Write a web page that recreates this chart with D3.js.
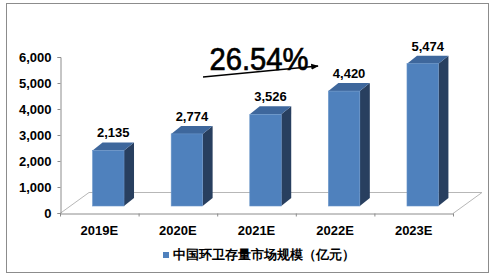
<!DOCTYPE html>
<html>
<head>
<meta charset="utf-8">
<script src="https://cdn.jsdelivr.net/npm/d3@7"></script>
<style>
  html, body { margin: 0; padding: 0; background: #fff; }
  svg text { font-family: Arial, "Liberation Sans", sans-serif; }
</style>
</head>
<body>
<svg id="chart" width="494" height="274"></svg>
<script>
// Chart data
const categories = ['2019E', '2020E', '2021E', '2022E', '2023E'];
const marketSize = [2135, 2774, 3526, 4420, 5474];
const yTicks = [0, 1000, 2000, 3000, 4000, 5000, 6000];
const seriesName = '中国环卫存量市场规模（亿元）';
const growthLabel = '26.54%';

const svg = d3.select('#chart');

// Outer frame
svg.append('rect')
  .attr('x', 6.5).attr('y', 3.5)
  .attr('width', 482).attr('height', 269)
  .attr('fill', '#fff')
  .attr('stroke', '#8c8c8c')
  .attr('stroke-width', 1);

// Plot geometry (front plane of the 3D floor)
const plot = { left: 60, right: 453, bottom: 213, top: 57 };
const floorDepth = { dx: 29, dy: -21 };  // floor depth offset
const barDepth = { dx: 10, dy: -8 };     // bar depth offset
const barShift = { dx: 9, dy: -7 };      // bars sit in middle of floor depth

const x = d3.scaleBand()
  .domain(categories)
  .range([plot.left, plot.right])
  .padding(0);

const y = d3.scaleLinear()
  .domain([0, 6000])
  .range([plot.bottom, plot.top]);

// Floor
const floorColor = '#b7b7b7';
const floor = svg.append('g').attr('class', 'floor')
  .attr('stroke', floorColor).attr('stroke-width', 1).attr('fill', 'none');
floor.append('path')
  .attr('d', `M${plot.left},${plot.bottom + 0.5}L${plot.left + floorDepth.dx},${plot.bottom + floorDepth.dy + 0.5}` +
             `L${plot.right + floorDepth.dx},${plot.bottom + floorDepth.dy + 0.5}L${plot.right},${plot.bottom + 0.5}`);

// Y axis
const yAxis = svg.append('g')
  .attr('transform', `translate(${plot.left + 0.5},0)`)
  .call(d3.axisLeft(y).tickValues(yTicks).tickSize(3).tickPadding(6).tickFormat(d3.format(',')));
yAxis.select('.domain').attr('stroke', '#8c8c8c');
yAxis.selectAll('.tick line').attr('stroke', '#8c8c8c');
yAxis.selectAll('.tick text')
  .attr('font-family', 'Arial, "Liberation Sans", sans-serif')
  .attr('font-size', 13).attr('font-weight', 'bold').attr('fill', '#000');

// X axis (front edge of floor)
const xAxis = svg.append('g')
  .attr('transform', `translate(0,${plot.bottom + 0.5})`)
  .call(d3.axisBottom(x).tickSize(0).tickPadding(12));
xAxis.select('.domain').attr('stroke', '#8c8c8c');
xAxis.selectAll('.tick text')
  .attr('font-family', 'Arial, "Liberation Sans", sans-serif')
  .attr('font-size', 13).attr('font-weight', 'bold').attr('fill', '#000');
// Category separators
const sepX = categories.map(c => x(c)).concat([plot.right]);
xAxis.selectAll('.sep')
  .data(sepX)
  .enter().append('line')
  .attr('class', 'sep')
  .attr('x1', d => d + 0.5).attr('x2', d => d + 0.5)
  .attr('y1', 0).attr('y2', 3)
  .attr('stroke', '#8c8c8c');

// Bars
const barW = x.bandwidth() * 0.4;
const bars = svg.append('g').attr('class', 'bars')
  .selectAll('g')
  .data(categories.map((c, i) => ({ cat: c, value: marketSize[i] })))
  .enter().append('g');

const bx = d => x(d.cat) + x.bandwidth() / 2 - barW / 2 + barShift.dx;
const byTop = d => y(d.value) + barShift.dy;
const byBot = () => y(0) + barShift.dy;

// side face
bars.append('path')
  .attr('d', d => {
    const x1 = bx(d) + barW, t = byTop(d), b = byBot();
    return `M${x1},${t}L${x1 + barDepth.dx},${t + barDepth.dy}L${x1 + barDepth.dx},${b + barDepth.dy}L${x1},${b}Z`;
  })
  .attr('fill', '#283f5f');

// top face
bars.append('path')
  .attr('d', d => {
    const x0 = bx(d), x1 = x0 + barW, t = byTop(d);
    return `M${x0},${t}L${x0 + barDepth.dx},${t + barDepth.dy}L${x1 + barDepth.dx},${t + barDepth.dy}L${x1},${t}Z`;
  })
  .attr('fill', '#3e679c');

// front face
bars.append('rect')
  .attr('x', d => bx(d))
  .attr('y', d => byTop(d))
  .attr('width', barW)
  .attr('height', d => byBot() - byTop(d))
  .attr('fill', '#4f81bd')
  .attr('stroke', '#6a95c9')
  .attr('stroke-width', 0.6);

// value labels
bars.append('text')
  .attr('x', d => bx(d) + (barW + barDepth.dx) / 2)
  .attr('y', d => byTop(d) + barDepth.dy - 5)
  .attr('text-anchor', 'middle')
  .attr('font-size', 13)
  .attr('font-weight', 'bold')
  .attr('fill', '#000')
  .text(d => d3.format(',')(d.value));

// Growth annotation
svg.append('defs').append('marker')
  .attr('id', 'arrowhead')
  .attr('viewBox', '0 0 10 10')
  .attr('refX', 9).attr('refY', 5)
  .attr('markerWidth', 5).attr('markerHeight', 5)
  .attr('orient', 'auto')
  .append('path')
  .attr('d', 'M0,1L10,5L0,9Z')
  .attr('fill', '#000');

svg.append('line')
  .attr('x1', 203).attr('y1', 77)
  .attr('x2', 318).attr('y2', 66)
  .attr('stroke', '#000')
  .attr('stroke-width', 1.5)
  .attr('marker-end', 'url(#arrowhead)');

svg.append('text')
  .attr('x', 259).attr('y', 70)
  .attr('text-anchor', 'middle')
  .attr('font-size', 31)
  .attr('textLength', 99)
  .attr('lengthAdjust', 'spacingAndGlyphs')
  .attr('fill', '#000')
  .attr('stroke', '#000')
  .attr('stroke-width', 0.7)
  .text(growthLabel);

// Legend
const legend = svg.append('g').attr('transform', 'translate(163,252)');
legend.append('rect')
  .attr('width', 6).attr('height', 6)
  .attr('fill', '#4f81bd');
legend.append('text')
  .attr('x', 10).attr('y', 7)
  .attr('font-family', '"Noto Sans CJK SC", sans-serif')
  .attr('font-size', 12.5)
  .attr('font-weight', 'bold')
  .attr('fill', '#000')
  .text(seriesName);
</script>
</body>
</html>
